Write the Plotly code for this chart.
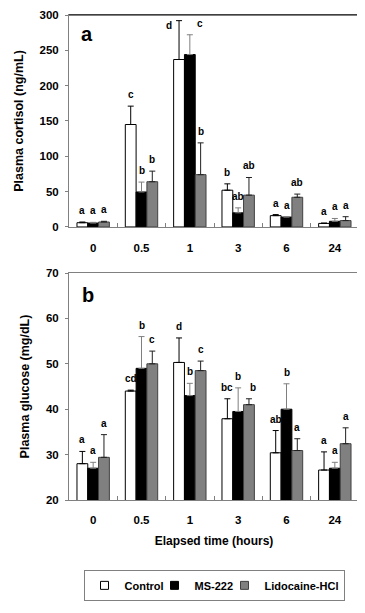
import plotly.graph_objects as go

# ---------------- data ----------------
time_labels = ["0", "0.5", "1", "3", "6", "24"]
series_names = ["Control", "MS-222", "Lidocaine-HCl"]

cortisol_control = [6, 145, 237, 52, 16, 5]
cortisol_ms222 = [5.5, 49.5, 244, 20, 14, 8]
cortisol_lido = [7, 64, 74, 45, 42, 9]
cortisol_control_err = [1, 26, 55, 9, 1.5, 0.5]
cortisol_ms222_err = [1, 14, 28, 7, 0.5, 4]
cortisol_lido_err = [1, 15, 45, 25, 4.5, 5.5]
cortisol_control_letters = ["a", "c", "d", "b", "a", "a"]
cortisol_ms222_letters = ["a", "b", "c", "ab", "a", "a"]
cortisol_lido_letters = ["a", "b", "b", "ab", "ab", "a"]

glucose_control = [28.0, 44.0, 50.3, 37.9, 30.4, 26.6]
glucose_ms222 = [27.0, 49.0, 43.0, 39.5, 40.0, 27.0]
glucose_lido = [29.4, 50.0, 48.5, 41.0, 30.9, 32.4]
glucose_control_err = [2.7, 0.2, 5.4, 4.4, 4.9, 4.0]
glucose_ms222_err = [1.3, 7.0, 2.7, 5.2, 5.6, 1.3]
glucose_lido_err = [5.0, 2.8, 2.1, 1.3, 2.6, 3.5]
glucose_control_letters = ["a", "cd", "d", "bc", "ab", "a"]
glucose_ms222_letters = ["a", "b", "b", "b", "b", "a"]
glucose_lido_letters = ["a", "c", "c", "b", "a", "a"]

# ---------------- styles ----------------
FONT = "Liberation Sans, Arial, sans-serif"
fill_colors = ["#ffffff", "#000000", "#808080"]
line_colors = ["#000000", "#000000", "#404040"]
err_colors = ["#000000", "#7f7f7f", "#202020"]
legend_widths = [25, 25, None]
AXIS_GREY = "#808080"
BARGAP = 0.33

# letter placement tweaks (pixels): (panel, series, group) -> (dx, dy)
letter_tweaks = {
    ("a", 0, 2): (-10, -16),
    ("a", 1, 2): (10, 0),
    ("b", 2, 3): (4, 0),
}

panels = {
    "a": dict(
        vals=[cortisol_control, cortisol_ms222, cortisol_lido],
        errs=[cortisol_control_err, cortisol_ms222_err, cortisol_lido_err],
        letters=[cortisol_control_letters, cortisol_ms222_letters, cortisol_lido_letters],
        xaxis="x", yaxis="y",
    ),
    "b": dict(
        vals=[glucose_control, glucose_ms222, glucose_lido],
        errs=[glucose_control_err, glucose_ms222_err, glucose_lido_err],
        letters=[glucose_control_letters, glucose_ms222_letters, glucose_lido_letters],
        xaxis="x2", yaxis="y2",
    ),
}

fig = go.Figure()
annotations = []
bar_w = (1 - BARGAP) / 3

for pname, p in panels.items():
    for k in range(3):
        fig.add_trace(go.Bar(
            x=time_labels, y=p["vals"][k], name=series_names[k],
            xaxis=p["xaxis"], yaxis=p["yaxis"],
            marker=dict(color=fill_colors[k], line=dict(color=line_colors[k], width=1)),
            error_y=dict(type="data", symmetric=False, array=p["errs"][k],
                         arrayminus=[0] * len(time_labels),
                         color=err_colors[k], thickness=1, width=3),
            showlegend=False, legendgroup=series_names[k],
        ))
        for i in range(len(time_labels)):
            dx, dy = letter_tweaks.get((pname, k, i), (0, 0))
            annotations.append(dict(
                x=i + (k - 1) * bar_w, y=p["vals"][k][i] + p["errs"][k][i],
                xref=p["xaxis"], yref=p["yaxis"],
                text="<b>%s</b>" % p["letters"][k][i], showarrow=False,
                yanchor="bottom", xanchor="center", xshift=dx, yshift=4 + dy,
                font=dict(family=FONT, size=10, color="#000000"),
            ))

# legend entries with small square keys (as in the original figure)
for k in range(3):
    kw = {}
    if legend_widths[k] is not None:
        kw["legendwidth"] = legend_widths[k]
    fig.add_trace(go.Scatter(
        x=[None], y=[None], mode="markers", name="<b>%s</b>" % series_names[k],
        marker=dict(symbol="square", size=8, color=fill_colors[k],
                    line=dict(color=line_colors[k], width=1)),
        legendgroup=series_names[k], showlegend=True, xaxis="x", yaxis="y", **kw,
    ))

# panel labels
annotations.append(dict(x=0.062, y=0.91, xref="x domain", yref="y domain",
                        xanchor="center", yanchor="middle",
                        text="<b>a</b>", showarrow=False,
                        font=dict(family=FONT, size=20, color="#000")))
annotations.append(dict(x=0.065, y=0.905, xref="x2 domain", yref="y2 domain",
                        xanchor="center", yanchor="middle",
                        text="<b>b</b>", showarrow=False,
                        font=dict(family=FONT, size=20, color="#000")))

tickfont = dict(family=FONT, size=11.5, color="#000")
common_x = dict(type="category", tickson="boundaries", ticks="inside", ticklen=4,
                tickcolor=AXIS_GREY, showline=True, linecolor=AXIS_GREY, linewidth=1,
                mirror=True, tickfont=tickfont, showgrid=False, zeroline=False,
                tickprefix="<b>", ticksuffix="</b>", automargin=False)
common_y = dict(ticks="outside", ticklen=3, tickcolor=AXIS_GREY, showline=True,
                linecolor=AXIS_GREY, linewidth=1, mirror=True, tickfont=tickfont,
                showgrid=False, zeroline=False, tickprefix="<b>", ticksuffix="</b>",
                automargin=False, ticklabelstandoff=4)

# The page body has an 8px margin, so the figure is 8px smaller and offset.
fig.update_layout(
    width=357, height=605,
    margin=dict(l=61, r=6, t=7, b=113, autoexpand=False),
    paper_bgcolor="white", plot_bgcolor="white",
    barmode="group", bargap=BARGAP, bargroupgap=0,
    font=dict(family=FONT, size=11, color="#000"),
    xaxis=dict(**common_x, domain=[0, 1], anchor="y", ticklabelstandoff=10),
    yaxis=dict(**common_y, domain=[0.563, 1], range=[0, 300], dtick=50, anchor="x",
               title=dict(text="<b>Plasma cortisol (ng/mL)</b>", standoff=13,
                          font=dict(family=FONT, size=12.5))),
    xaxis2=dict(**common_x, domain=[0, 1], anchor="y2", ticklabelstandoff=9,
                title=dict(text="<b>Elapsed time (hours)</b>", standoff=11,
                           font=dict(family=FONT, size=12))),
    yaxis2=dict(**common_y, domain=[0, 0.468], range=[20, 70], dtick=10, anchor="x2",
                title=dict(text="<b>Plasma glucose (mg/dL)</b>", standoff=13,
                           font=dict(family=FONT, size=12.5))),
    legend=dict(orientation="h", x=0.5, xanchor="center", y=-0.176, yanchor="middle",
                bordercolor=AXIS_GREY, borderwidth=1, bgcolor="white",
                font=dict(family=FONT, size=11), traceorder="normal"),
    annotations=annotations,
    shapes=[
        dict(type="line", xref="x domain", yref="y domain", x0=0, x1=1, y0=1, y1=1,
             line=dict(color="#000", width=1)),
        dict(type="line", xref="x domain", yref="y domain", x0=1, x1=1, y0=0, y1=1,
             line=dict(color="#000", width=1)),
    ],
)

fig.write_html("out.html")
